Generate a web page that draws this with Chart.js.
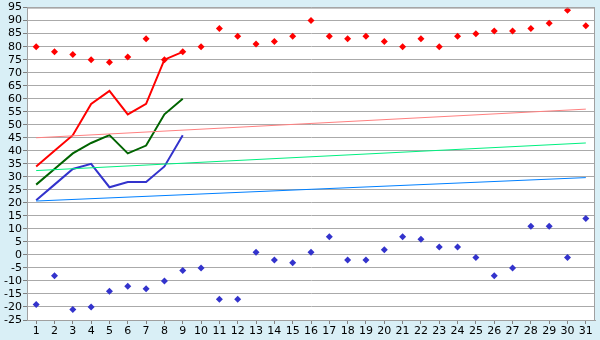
<!DOCTYPE html>
<html lang="en">
<head>
    <meta charset="UTF-8" />
    <title>Daily chart</title>
    <script src="https://cdn.jsdelivr.net/npm/chart.js"></script>
    <style>
        html, body { margin: 0; padding: 0; background: #d9eff6; }
        #wrap { width: 600px; height: 340px; }
    </style>
</head>
<body>
    <div id="wrap"><canvas id="chart" width="600" height="340"></canvas></div>

    <script>
        const days = ['1','2','3','4','5','6','7','8','9','10','11','12','13','14','15','16',
                      '17','18','19','20','21','22','23','24','25','26','27','28','29','30','31'];

        // upper and lower point series
        const highPoints = [80, 78, 77, 75, 74, 76, 83, 75, 78, 80, 87, 84, 81, 82, 84, 90,
                            84, 83, 84, 82, 80, 83, 80, 84, 85, 86, 86, 87, 89, 94, 88];
        const lowPoints = [-19, -8, -21, -20, -14, -12, -13, -10, -6, -5, -17, -17, 1, -2, -3, 1,
                           7, -2, -2, 2, 7, 6, 3, 3, -1, -8, -5, 11, 11, -1, 14];

        // lines for the first days
        const redLine = [34, 40, 46, 58, 63, 54, 58, 75, 78];
        const greenLine = [27, 33, 39, 43, 46, 39, 42, 54, 60];
        const blueLine = [21, 27, 33, 35, 26, 28, 28, 34, 46];

        // trend lines: value on day 1 and on day 31
        const redTrend = [45, 56];
        const greenTrend = [32.4, 43];
        const blueTrend = [20.7, 29.7];

        const yTicks = { min: -25, max: 95, step: 5 };

        function trendData(ends) {
            return [{ x: days[0], y: ends[0] }, { x: days[days.length - 1], y: ends[1] }];
        }

        const plotFrame = {
            id: 'plotFrame',
            beforeDraw: (chart) => {
                const c = chart.ctx, a = chart.chartArea;
                c.save();
                c.fillStyle = '#d9eff6';
                c.fillRect(0, 0, chart.width, chart.height);
                c.fillStyle = '#ffffff';
                c.fillRect(a.left, a.top, a.right - a.left, a.bottom - a.top);
                c.restore();
            },
            afterDraw: (chart) => {
                const c = chart.ctx, a = chart.chartArea;
                c.save();
                c.strokeStyle = '#a0a0a0';
                c.lineWidth = 1;
                c.strokeRect(a.left + 0.5, a.top + 0.5, a.right - a.left - 1, a.bottom - a.top);
                c.restore();
            }
        };

        const pointSet = (data, color) => ({
            type: 'line',
            data: data,
            showLine: false,
            pointStyle: 'rectRot',
            pointRadius: 3.5,
            pointBackgroundColor: color,
            pointBorderColor: color,
            pointBorderWidth: 0
        });

        const lineSet = (data, color) => ({
            type: 'line',
            data: data,
            borderColor: color,
            borderWidth: 2,
            pointRadius: 0,
            tension: 0,
            fill: false
        });

        const trendSet = (ends, color) => ({
            type: 'line',
            data: trendData(ends),
            borderColor: color,
            borderWidth: 1,
            pointRadius: 0,
            tension: 0,
            fill: false
        });

        new Chart(document.getElementById('chart'), {
            type: 'line',
            data: {
                labels: days,
                datasets: [
                    trendSet(redTrend, '#ff8080'),
                    trendSet(greenTrend, '#00f080'),
                    trendSet(blueTrend, '#0080ff'),
                    lineSet(redLine, '#ff0000'),
                    lineSet(greenLine, '#006400'),
                    lineSet(blueLine, '#3333cc'),
                    pointSet(highPoints, '#ff0000'),
                    pointSet(lowPoints, '#3333cc')
                ]
            },
            options: {
                responsive: false,
                animation: false,
                layout: { padding: { top: 5, right: 5, left: 0, bottom: 0 } },
                plugins: {
                    legend: { display: false },
                    tooltip: { enabled: false }
                },
                scales: {
                    x: {
                        offset: true,
                        grid: {
                            offset: false,
                            drawOnChartArea: false,
                            drawTicks: true,
                            tickLength: 4,
                            color: '#808080'
                        },
                        border: { color: '#a0a0a0' },
                        ticks: {
                            autoSkip: false,
                            maxRotation: 0,
                            padding: 1,
                            color: '#000000',
                            font: { family: 'DejaVu Sans', size: 11 }
                        },
                        afterFit: (scale) => { scale.height = 20; }
                    },
                    y: {
                        min: yTicks.min,
                        max: yTicks.max,
                        grid: {
                            color: '#aaaaaa',
                            tickLength: 4,
                            tickColor: '#808080'
                        },
                        border: { color: '#a0a0a0' },
                        ticks: {
                            stepSize: yTicks.step,
                            autoSkip: false,
                            padding: 1,
                            color: '#000000',
                            font: { family: 'DejaVu Sans', size: 11 }
                        },
                        afterFit: (scale) => { scale.width = 27; }
                    }
                }
            },
            plugins: [plotFrame]
        });
    </script>
</body>
</html>
